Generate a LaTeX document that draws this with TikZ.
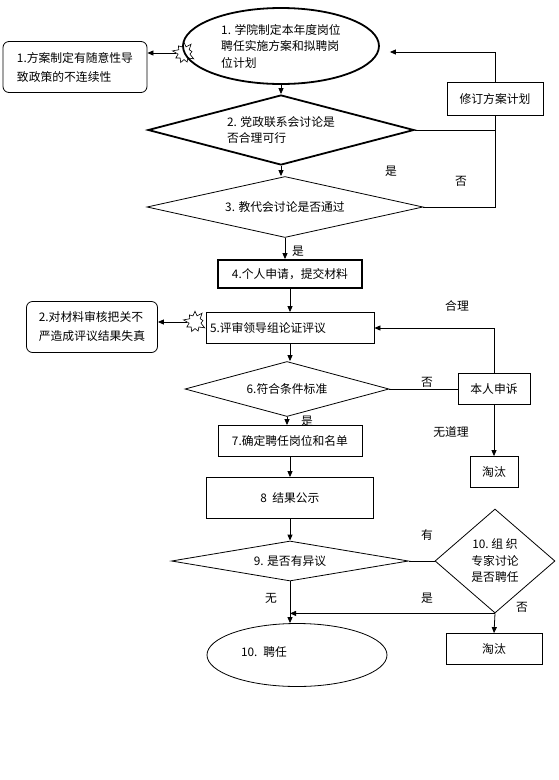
\documentclass[tikz,border=0pt]{standalone}
\usepackage{fontspec}
\setmainfont{Noto Sans CJK SC}
\usetikzlibrary{shapes.geometric,shapes.symbols,arrows.meta}

\begin{document}
\begin{tikzpicture}[x=1pt,y=-1pt,line width=0.8pt,
    >={Triangle[length=6pt,width=5pt]},
    font=\fontsize{11.8}{16.5}\selectfont,
    burst/.style={starburst,draw,line width=0.6pt,minimum width=24pt,minimum height=25pt,starburst points=9,starburst point height=6pt,inner sep=0pt}]
        \useasboundingbox (0,0) rectangle (559,780);
        % main column
        \node[ellipse,draw,line width=1.8pt,minimum width=196pt,minimum height=76pt,inner sep=0pt,align=left] (plan) at (281,46) {1. 学院制定本年度岗位\\聘任实施方案和拟聘岗\\位计划};
        \node[diamond,draw,line width=1.8pt,minimum width=266pt,minimum height=70pt,aspect=3.8,inner sep=0pt,align=left] (party) at (281,130) {2. 党政联系会讨论是\\否合理可行};
        \node[diamond,draw,minimum width=276pt,minimum height=61pt,aspect=4.5,inner sep=0pt] (staff) at (285,207) {3. 教代会讨论是否通过};
        \node[rectangle,draw,line width=1.8pt,minimum width=144pt,minimum height=28pt] (apply) at (290,274) {4.个人申请，提交材料};
        \node[rectangle,draw,minimum width=168pt,minimum height=31pt,text width=160pt,align=left] (review) at (290,328) {5.评审领导组论证评议};
        \node[diamond,draw,minimum width=204pt,minimum height=55pt,aspect=3.7,inner sep=0pt] (meet) at (287,389) {6.符合条件标准};
        \node[rectangle,draw,minimum width=144pt,minimum height=31pt] (fix) at (290,441) {7.确定聘任岗位和名单};
        \node[rectangle,draw,minimum width=167pt,minimum height=41pt] (post) at (290,498) {8\ \ 结果公示};
        \node[diamond,draw,minimum width=237pt,minimum height=40pt,aspect=5.9,inner sep=0pt] (object) at (290,561) {9. 是否有异议};
        \node[ellipse,draw,minimum width=180pt,minimum height=63pt,inner sep=0pt,text width=112pt,align=left] (hire) at (297,655) {\raisebox{7pt}{10. 聘任}};
        % side boxes
        \node[rectangle,draw,rounded corners=6pt,minimum width=144pt,minimum height=51pt,align=left,font=\fontsize{11.8}{19}\selectfont] (risk1) at (75,67) {1.方案制定有随意性导\\致政策的不连续性};
        \node[burst] (burst1) at (184,53) {};
        \node[rectangle,draw,rounded corners=6pt,minimum width=131pt,minimum height=51pt,align=left,font=\fontsize{11.8}{19}\selectfont] (risk2) at (92,327) {2.对材料审核把关不\\严造成评议结果失真};
        \node[burst] (burst2) at (195,322) {};
        \node[rectangle,draw,minimum width=96pt,minimum height=33pt] (revise) at (495,99) {修订方案计划};
        \node[rectangle,draw,minimum width=72pt,minimum height=31pt] (appeal) at (494,389) {本人申诉};
        \node[rectangle,draw,minimum width=48pt,minimum height=31pt] (out1) at (494,472) {淘汰};
        \node[diamond,draw,minimum width=120pt,minimum height=104pt,aspect=1.15,inner sep=0pt,align=center] (expert) at (495,561) {10.\ 组\ 织\\专家讨论\\是否聘任};
        \node[rectangle,draw,minimum width=96pt,minimum height=31pt] (out2) at (494,649) {淘汰};
        % labels
        \node (yes1) at (391,171) {是};
        \node (no1) at (461,181) {否};
        \node (yes2) at (298,251) {是};
        \node (ok) at (457,306) {合理};
        \node (no2) at (427,382) {否};
        \node (yes3) at (307,421) {是};
        \node (bad) at (451,432) {无道理};
        \node (has) at (427,535) {有};
        \node (none) at (271,598) {无};
        \node (yes4) at (427,598) {是};
        \node (no3) at (522,607) {否};
        % connectors
        \draw[->] (plan.south) -- (party.north);
        \draw[->] (party.south) -- (party.south |- staff.north);
        \draw[->] (staff.south) -- (staff.south |- apply.north);
        \draw (party.east) -- (party.east -| revise.south);
        \draw (staff.east) -| (revise.south);
        \draw[->, shorten >= 10pt] (revise.north) |- ([yshift=-6pt]plan.east);
        \draw[->] (burst1.west) -- (burst1.west -| risk1.east);
        \draw[->] (apply.south) -- (review.north);
        \draw[->] (burst2.west) -- (burst2.west -| risk2.east);
        \draw[->] (review.south) -- (review.south |- meet.north);
        \draw (meet.east) -- (appeal.west);
        \draw[->] (appeal.north) |- (review.east);
        \draw[->] (appeal.south) -- (out1.north);
        \draw[->] (meet.south) -- (meet.south |- fix.north);
        \draw[->] (fix.south) -- (fix.south |- post.north);
        \draw[->] (post.south) -- (post.south |- object.north);
        \draw (object.east) -- (expert.west);
        \draw[->] (expert.south) -- (expert.south -| object.south);
        \draw[->] (expert.south) -- (out2.north);
        \draw[->] (object.south) -- (object.south |- hire.north);
    \end{tikzpicture}
\end{document}
